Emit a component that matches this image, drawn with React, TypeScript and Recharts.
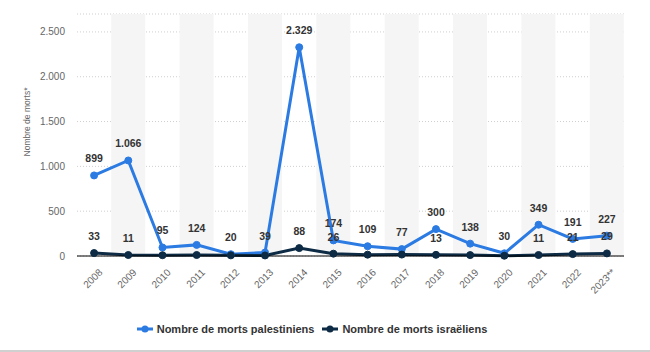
import React from 'react';
import {
  ComposedChart, Line, Bar, XAxis, YAxis, CartesianGrid, Legend, LabelList, Label,
} from 'recharts';

const years = ['2008', '2009', '2010', '2011', '2012', '2013', '2014', '2015', '2016', '2017', '2018', '2019', '2020', '2021', '2022', '2023**'];
const palestinians = [899, 1066, 95, 124, 20, 39, 2329, 174, 109, 77, 300, 138, 30, 349, 191, 227];
const israelis = [33, 11, 9, 11, 7, 6, 88, 26, 15, 16, 13, 10, 3, 11, 21, 29];
const israeliLabelShown = [true, true, false, false, false, false, true, true, false, false, true, false, false, true, true, true];
const yTicks = [0, 500, 1000, 1500, 2000, 2500];
const yMax = 2700;

const BLUE = '#2b7be3';
const DARK = '#0d2b45';
const FONT = '"Liberation Sans", Arial, sans-serif';

const data = years.map((y, i) => ({
  year: y,
  pal: palestinians[i],
  isr: israelis[i],
  isrShown: israeliLabelShown[i],
  band: i % 2 === 1 ? yMax : 0,
}));

const fmt = (v: number) => String(v).replace(/\B(?=(\d{3})+(?!\d))/g, '.');

const XTick = (props: any) => {
  const { x, y, payload } = props;
  return (
    <g transform={`translate(${x + 4},${y + 4})`}>
      <text transform="rotate(-45)" textAnchor="end" dy="0.71em" fontSize={10} fill="#666" fontFamily={FONT}>
        {payload.value}
      </text>
    </g>
  );
};

const makeLabel = (showKey?: string) => (props: any) => {
  const { x, y, value, index } = props;
  if (showKey && !data[index][showKey as 'isrShown']) return null;
  return (
    <text x={x} y={y - 13} textAnchor="middle" fontSize={10.5} fontWeight="bold" fill="#333" fontFamily={FONT}>
      {fmt(value)}
    </text>
  );
};

const LegendContent = () => {
  const items = [
    { name: 'Nombre de morts palestiniens', color: BLUE },
    { name: 'Nombre de morts israëliens', color: DARK },
  ];
  return (
    <div style={{ display: 'flex', justifyContent: 'center', alignItems: 'center', height: 20, fontFamily: FONT, fontSize: 11, fontWeight: 'bold', color: '#333' }}>
      {items.map((it) => (
        <div key={it.name} style={{ display: 'flex', alignItems: 'center', margin: '0 4px' }}>
          <svg width={16} height={10} style={{ marginRight: 4 }}>
            <line x1={0} y1={5} x2={16} y2={5} stroke={it.color} strokeWidth={3} />
            <circle cx={8} cy={5} r={3.5} fill={it.color} />
          </svg>
          <span>{it.name}</span>
        </div>
      ))}
    </div>
  );
};

export default function App() {
  return (
    <div style={{ position: 'absolute', left: 0, top: 0, width: 650, height: 352, background: '#fff' }}>
      <ComposedChart width={650} height={352} data={data} margin={{ top: 14, right: 26, left: 0, bottom: 13 }} barCategoryGap={0}>
        <CartesianGrid vertical={false} stroke="#cfcfcf" strokeDasharray="1 2" />
        <XAxis
          dataKey="year"
          height={63}
          tick={<XTick />}
          tickLine={false}
          axisLine={{ stroke: '#000', strokeWidth: 1 }}
          interval={0}
        />
        <YAxis
          width={77}
          domain={[0, yMax]}
          ticks={yTicks}
          tickFormatter={fmt}
          axisLine={false}
          tickLine={false}
          tickMargin={6}
          tick={{ fontSize: 10, fill: '#666', fontFamily: FONT }}
        >
          <Label
            value="Nombre de morts*"
            angle={-90}
            position="center"
            content={() => (
              <text x={27} y={122} transform="rotate(-90 27 122)" textAnchor="middle" dominantBaseline="central" fontSize={8.5} fill="#666" fontFamily={FONT}>
                Nombre de morts*
              </text>
            )}
          />
        </YAxis>
        <Bar dataKey="band" fill="#f5f5f5" isAnimationActive={false} legendType="none" />
        <Line
          dataKey="pal"
          stroke={BLUE}
          strokeWidth={3}
          dot={{ r: 3.5, fill: BLUE, stroke: BLUE, strokeWidth: 1 }}
          isAnimationActive={false}
        >
          <LabelList dataKey="pal" content={makeLabel()} />
        </Line>
        <Line
          dataKey="isr"
          stroke={DARK}
          strokeWidth={3}
          dot={{ r: 3.5, fill: DARK, stroke: DARK, strokeWidth: 1 }}
          isAnimationActive={false}
        >
          <LabelList dataKey="isr" content={makeLabel('isrShown')} />
        </Line>
        <Legend verticalAlign="bottom" height={20} content={<LegendContent />} />
      </ComposedChart>
      <div style={{ position: 'absolute', left: 0, top: 350, width: 650, height: 2, background: '#d0d0d0' }} />
    </div>
  );
}
